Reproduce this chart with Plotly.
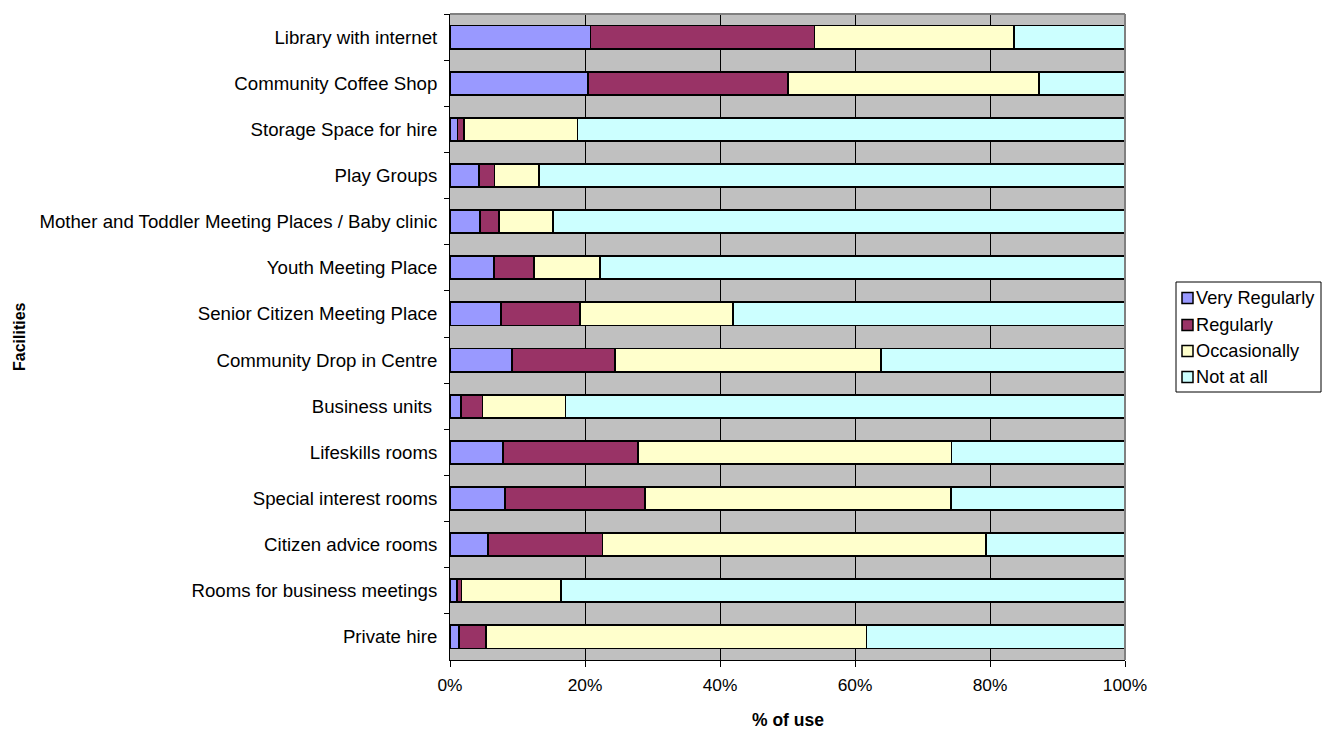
import plotly.graph_objects as go

facilities = [
    "Library with internet",
    "Community Coffee Shop",
    "Storage Space for hire",
    "Play Groups",
    "Mother and Toddler Meeting Places / Baby clinic",
    "Youth Meeting Place",
    "Senior Citizen Meeting Place",
    "Community Drop in Centre",
    "Business units ",
    "Lifeskills rooms",
    "Special interest rooms",
    "Citizen advice rooms",
    "Rooms for business meetings",
    "Private hire",
]

very_regularly = [20.8, 20.5, 1.1, 4.3, 4.4, 6.5, 7.5, 9.2, 1.6, 7.8, 8.1, 5.6, 1.0, 1.3]
regularly = [33.2, 29.6, 1.0, 2.3, 2.9, 6.0, 11.7, 15.2, 3.2, 20.1, 20.8, 17.0, 0.7, 4.0]
occasionally = [29.6, 37.1, 16.8, 6.6, 7.9, 9.7, 22.7, 39.4, 12.3, 46.4, 45.3, 56.8, 14.7, 56.4]
not_at_all = [16.4, 12.8, 81.2, 86.8, 84.8, 77.9, 58.1, 36.2, 82.9, 25.7, 25.8, 20.6, 83.6, 38.3]

x_ticks = [0, 20, 40, 60, 80, 100]
x_tick_text = ["0%", "20%", "40%", "60%", "80%", "100%"]

series = [
    ("Very Regularly", very_regularly, "#9999FF"),
    ("Regularly", regularly, "#993366"),
    ("Occasionally", occasionally, "#FFFFCC"),
    ("Not at all", not_at_all, "#CCFFFF"),
]

W, H = 1327, 729
M_L, M_R, M_T, M_B = 450, 202, 14, 69
PLOT_W = W - M_L - M_R
PLOT_H = H - M_T - M_B


def px_x(px):
    """Page x pixel -> paper coordinate."""
    return (px - M_L) / PLOT_W


def px_y(py):
    """Page y pixel -> paper coordinate."""
    return (H - M_B - py) / PLOT_H


font_family = "Liberation Sans, Arial, sans-serif"

fig = go.Figure()
for name, vals, color in series:
    fig.add_trace(go.Bar(
        y=facilities, x=vals, name=name, orientation="h",
        marker=dict(color=color, line=dict(color="black", width=1.8)),
        showlegend=False,
    ))

fig.update_layout(
    barmode="stack",
    barnorm="percent",
    bargap=0.5,
    width=W, height=H,
    margin=dict(l=M_L, r=M_R, t=M_T, b=M_B, autoexpand=False),
    paper_bgcolor="white",
    plot_bgcolor="#C0C0C0",
    font=dict(family=font_family, size=18.67, color="black"),
    xaxis=dict(
        range=[0, 100], tickvals=x_ticks, ticktext=x_tick_text,
        tickfont=dict(size=17.33),
        showgrid=True, gridcolor="black", gridwidth=1,
        showline=True, linecolor="black", linewidth=1,
        ticks="outside", ticklen=6, tickcolor="black",
        ticklabelstandoff=3,
        zeroline=False, automargin=False,
    ),
    yaxis=dict(
        autorange="reversed",
        showgrid=False,
        showline=True, linecolor="black", linewidth=1,
        ticks="outside", ticklen=5, tickcolor="black",
        tickson="boundaries",
        ticklabelstandoff=8,
        automargin=False,
    ),
)

# grey frame on the top and right edges of the plotting area
fig.add_shape(type="line", xref="paper", yref="paper", x0=0, x1=1, y0=1, y1=1,
              line=dict(color="#808080", width=2))
fig.add_shape(type="line", xref="paper", yref="paper", x0=1, x1=1, y0=0, y1=1,
              line=dict(color="#808080", width=2))

# axis titles
fig.add_annotation(text="<b>% of use</b>", xref="paper", yref="paper",
                   x=0.5, y=px_y(720), showarrow=False,
                   font=dict(size=17.5), xanchor="center", yanchor="middle")
fig.add_annotation(text="<b>Facilities</b>", xref="paper", yref="paper",
                   x=px_x(19), y=0.5, showarrow=False, textangle=-90,
                   font=dict(size=16), xanchor="center", yanchor="middle")

# legend box with one swatch and label per series
fig.add_shape(type="rect", xref="paper", yref="paper",
              x0=px_x(1176), x1=px_x(1321), y0=px_y(282), y1=px_y(392),
              line=dict(color="black", width=1), fillcolor="white")
row_y = [298, 325, 351, 377]
for (name, _, color), ry in zip(series, row_y):
    fig.add_shape(type="rect", xref="paper", yref="paper",
                  x0=px_x(1182), x1=px_x(1193), y0=px_y(ry + 5.5), y1=px_y(ry - 5.5),
                  line=dict(color="black", width=1.5), fillcolor=color)
    fig.add_annotation(text=name, xref="paper", yref="paper",
                       x=px_x(1194), y=px_y(ry), showarrow=False,
                       xanchor="left", yanchor="middle",
                       font=dict(size=18.2))

fig.write_html("out.html")
